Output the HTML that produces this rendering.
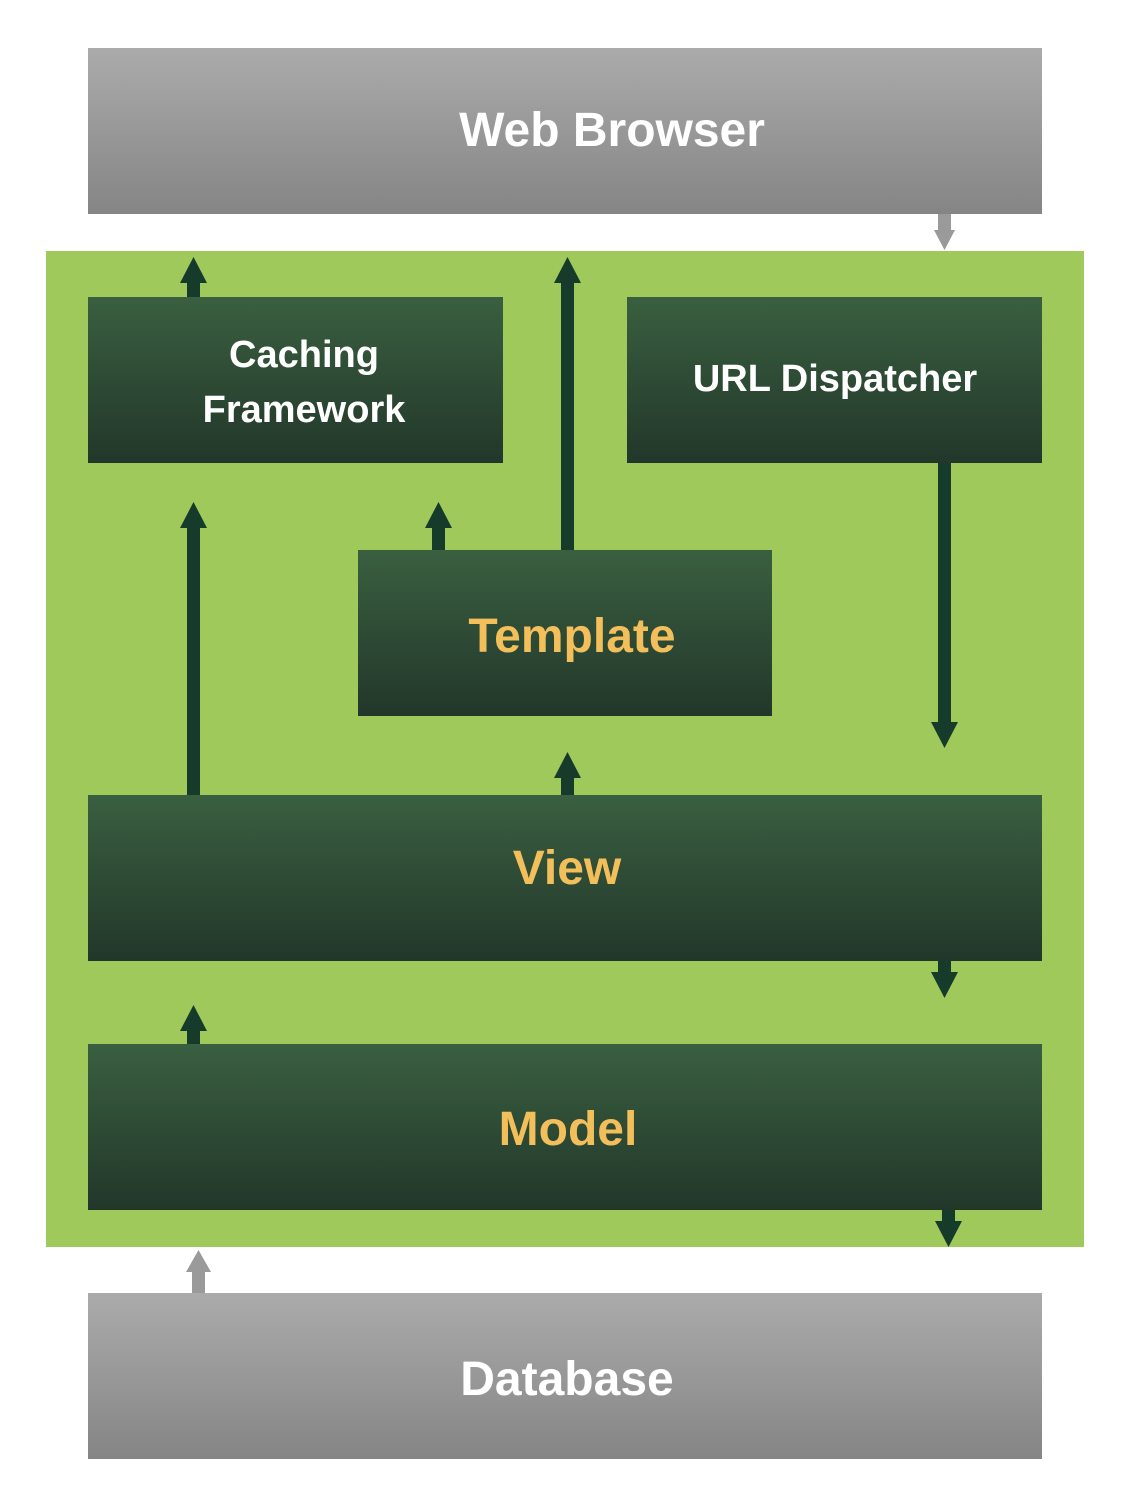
<!DOCTYPE html>
<html><head><style>
body{margin:0;background:#fff;}
svg{display:block}
text{font-family:"Liberation Sans",sans-serif;font-weight:bold;}
</style></head><body>
<svg width="1134" height="1502" viewBox="0 0 1134 1502" xmlns="http://www.w3.org/2000/svg">
<defs>
<linearGradient id="gr" x1="0" y1="0" x2="0" y2="1"><stop offset="0" stop-color="#ababab"/><stop offset="1" stop-color="#858585"/></linearGradient>
<linearGradient id="dk" x1="0" y1="0" x2="0" y2="1"><stop offset="0" stop-color="#3a5f40"/><stop offset="1" stop-color="#22372a"/></linearGradient>
</defs>
<rect x="88" y="48" width="954" height="166" fill="url(#gr)"/>
<text x="612" y="146" font-size="48" fill="#fff" text-anchor="middle">Web Browser</text>
<rect x="46" y="251" width="1038" height="996" fill="#9fc95b"/>
<rect x="88" y="297" width="415" height="166" fill="url(#dk)"/>
<text x="304" y="367" font-size="38" fill="#fff" text-anchor="middle">Caching</text>
<text x="304" y="422" font-size="38" fill="#fff" text-anchor="middle">Framework</text>
<rect x="627" y="297" width="415" height="166" fill="url(#dk)"/>
<text x="835" y="391" font-size="38" fill="#fff" text-anchor="middle">URL Dispatcher</text>
<rect x="358" y="550" width="414" height="166" fill="url(#dk)"/>
<text x="572" y="652" font-size="48" fill="#f3bf5a" text-anchor="middle">Template</text>
<rect x="88" y="795" width="954" height="166" fill="url(#dk)"/>
<text x="567" y="884" font-size="48" fill="#f3bf5a" text-anchor="middle">View</text>
<rect x="88" y="1044" width="954" height="166" fill="url(#dk)"/>
<text x="568" y="1145" font-size="48" fill="#f3bf5a" text-anchor="middle">Model</text>
<rect x="88" y="1293" width="954" height="166" fill="url(#gr)"/>
<text x="567" y="1395" font-size="48" fill="#fff" text-anchor="middle">Database</text>
<g fill="#163b2a">
<!-- up arrows: x, top, bottom -->
<path d="M187,297 V283 H180 L193.5,257 L207,283 H200 V297Z"/>
<path d="M561,550 V283 H554 L567.5,257 L581,283 H574 V550Z"/>
<path d="M432,550 V528 H425 L438.5,502 L452,528 H445 V550Z"/>
<path d="M187,795 V528 H180 L193.5,502 L207,528 H200 V795Z"/>
<path d="M561,795 V778 H554 L567.5,752 L581,778 H574 V795Z"/>
<path d="M187,1044 V1031 H180 L193.5,1005 L207,1031 H200 V1044Z"/>
<!-- down arrows -->
<path d="M938,463 V722 H931 L944.5,748 L958,722 H951 V463Z"/>
<path d="M938,961 V972 H931 L944.5,998 L958,972 H951 V961Z"/>
<path d="M942,1210 V1221 H935 L948.5,1247 L962,1221 H955 V1210Z"/>
</g>
<g fill="#9a9a9a">
<path d="M938,214 V230 H934 L944.5,250 L955,230 H951 V214Z"/>
<path d="M192,1293 V1272 H186 L198.5,1250 L211,1272 H205 V1293Z"/>
</g>
</svg>
</body></html>
